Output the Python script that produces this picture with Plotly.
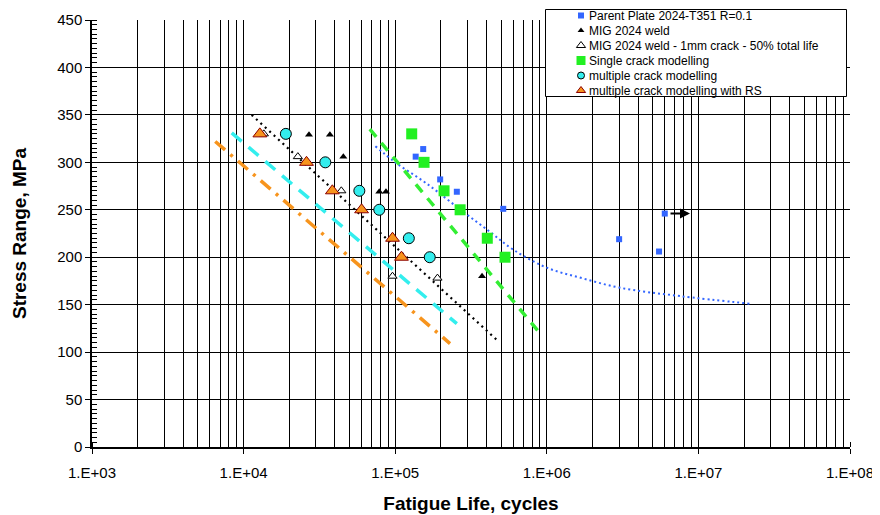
import numpy as np
import plotly.graph_objects as go

# ---------------- data ----------------
parent_N = [1.365e5, 1.53e5, 1.98e5, 2.55e5, 5.16e5, 3.0e6, 5.5e6, 6.0e6]
parent_S = [306, 314, 282, 269, 251, 219, 206, 246]
runout_N = [6.4e6, 8.8e6]
runout_S = [246, 246]

parent_fit_N = [7.4e4, 1.0e5, 1.6e5, 2.7e5, 4.2e5, 6.0e5, 1.0e6, 1.7e6, 3.0e6, 7.6e6, 2.2e7]
parent_fit_S = [317, 300, 278, 250, 227, 208, 189, 178, 168, 159, 151]

mig_N = [2.70e4, 3.71e4, 4.55e4, 7.85e4, 8.69e4, 1.90e5, 3.74e5]
mig_S = [329, 329, 306, 269, 269, 178, 180]

mig_crack_N = [1.36e4, 2.28e4, 4.41e4, 9.6e4, 1.9e5]
mig_crack_S = [330, 306, 270, 180, 178]

single_N = [1.285e5, 1.55e5, 2.10e5, 2.68e5, 4.05e5, 5.3e5]
single_S = [330, 300, 270, 250, 220, 200]

multi_N = [1.9e4, 3.46e4, 5.8e4, 7.85e4, 1.23e5, 1.69e5]
multi_S = [330, 300, 270, 250, 220, 200]

multi_rs_N = [1.28e4, 2.6e4, 3.85e4, 6.0e4, 9.6e4, 1.1e5]
multi_rs_S = [330, 300, 270, 250, 220, 200]

single_fit_N = [6.8e4, 9.0e5]
single_fit_S = [335, 120]
multi_fit_N = [8.35e3, 2.55e5]
multi_fit_S = [331, 130]
multi_rs_fit_N = [6.5e3, 2.3e5]
multi_rs_fit_S = [322, 109]
mig_fit_N = [1.13e4, 4.67e5]
mig_fit_S = [350, 113]

x_decades = [1e3, 1e4, 1e5, 1e6, 1e7, 1e8]
x_tick_labels = ["1.E+03", "1.E+04", "1.E+05", "1.E+06", "1.E+07", "1.E+08"]
y_ticks = [0, 50, 100, 150, 200, 250, 300, 350, 400, 450]

legend_names = [
    "Parent Plate 2024-T351 R=0.1",
    "MIG 2024 weld",
    "MIG 2024 weld - 1mm crack - 50% total life",
    "Single crack modelling",
    "multiple crack modelling",
    "multiple crack modelling with RS",
]

# ---------------- styles ----------------
FONT = "Arial, Liberation Sans, sans-serif"
BLUE = "#3366FF"
GREEN = "#22F022"
CYAN = "#33EEEE"
ORANGE = "#F7941D"
DARKRED = "#8B0000"

fig = go.Figure()

def line(xs, ys, color, width, dash, shape="linear"):
    fig.add_trace(go.Scatter(x=xs, y=ys, mode="lines", showlegend=False,
                             hoverinfo="skip",
                             line=dict(color=color, width=width, dash=dash,
                                       shape=shape)))

line(parent_fit_N, parent_fit_S, BLUE, 2, "2px,3px", "spline")
line(mig_fit_N, mig_fit_S, "black", 2.2, "2px,4px")
line(multi_rs_fit_N, multi_rs_fit_S, ORANGE, 3.5, "13px,7px,3px,7px")
line(multi_fit_N, multi_fit_S, CYAN, 3.5, "13px,9px")
line(single_fit_N, single_fit_S, "#33EE33", 3.5, "10px,8px")

series = [
    (parent_N, parent_S, dict(symbol="square", size=6, color=BLUE)),
    (mig_N, mig_S, dict(symbol="triangle-up", size=7, color="black")),
    (mig_crack_N, mig_crack_S, dict(symbol="triangle-up", size=8, color="white",
                                    line=dict(color="black", width=1))),
    (single_N, single_S, dict(symbol="square", size=11, color=GREEN)),
    (multi_N, multi_S, dict(symbol="circle", size=11, color=CYAN,
                            line=dict(color="black", width=1))),
    (multi_rs_N, multi_rs_S, dict(symbol="triangle-up", size=12, color=ORANGE,
                                  line=dict(color=DARKRED, width=1))),
]
for (xs, ys, mk), name in zip(series, legend_names):
    fig.add_trace(go.Scatter(x=xs, y=ys, mode="markers", name=name,
                             showlegend=False, marker=mk))

# run-out arrow
fig.add_annotation(x=np.log10(runout_N[1]), y=runout_S[1],
                   ax=np.log10(runout_N[0]), ay=runout_S[0],
                   xref="x", yref="y", axref="x", ayref="y",
                   text="", showarrow=True, arrowhead=2, arrowsize=1,
                   arrowwidth=2, arrowcolor="black")

# ---------------- compact legend (own small subplot) ----------------
LEG_W, LEG_H = 302, 88
row_y = [6.5 + 15 * i for i in range(len(legend_names))]
key_x = 36
key_sizes = [6, 6, 8, 9, 7, 8]
fig.add_shape(type="rect", xref="x2", yref="y2", x0=0.5, x1=LEG_W - 0.5,
              y0=0.5, y1=LEG_H - 0.5, fillcolor="white",
              line=dict(color="black", width=1), layer="between")
for (xs, ys, mk), name, ry, sz in zip(series, legend_names, row_y, key_sizes):
    key = dict(mk)
    key["size"] = sz
    fig.add_trace(go.Scatter(x=[key_x], y=[ry], xaxis="x2", yaxis="y2",
                             mode="markers", marker=key, showlegend=False,
                             hoverinfo="skip"))
    fig.add_annotation(x=key_x + 6, y=ry, xref="x2", yref="y2", text=name,
                       showarrow=False, xanchor="left", yanchor="middle",
                       font=dict(family=FONT, size=12, color="black"))

# ---------------- axes ----------------
x_tickvals = [k * 10.0 ** d for d in range(3, 8) for k in range(1, 10)] + [1e8]
x_ticktext = [x_tick_labels[x_decades.index(v)] if v in x_decades else ""
              for v in x_tickvals]

fig.update_layout(
    xaxis=dict(type="log", range=[3, 8], tickmode="array",
               tickvals=x_tickvals, ticktext=x_ticktext,
               showgrid=True, gridcolor="black", gridwidth=1,
               ticks="outside", ticklen=5, tickcolor="black", tickwidth=1,
               minor=dict(ticks="inside", ticklen=5, tickcolor="black",
                          tickmode="array", tickvals=x_tickvals, showgrid=False),
               ticklabelstandoff=6,
               showline=True, linecolor="black", linewidth=1.5,
               zeroline=False,
               tickfont=dict(family=FONT, size=15, color="black"),
               title=dict(text="<b>Fatigue Life, cycles</b>", standoff=17,
                          font=dict(family=FONT, size=19, color="black"))),
    yaxis=dict(domain=[0, 427 / 438], range=[0, 450], tickmode="array",
               tickvals=y_ticks,
               showgrid=True, gridcolor="black", gridwidth=1,
               ticks="outside", ticklen=5, tickcolor="black", tickwidth=1,
               minor=dict(dtick=5, ticks="inside", ticklen=5,
                          tickcolor="black", showgrid=False),
               showline=True, linecolor="black", linewidth=1.5,
               zeroline=False,
               tickfont=dict(family=FONT, size=15, color="black"),
               title=dict(text="<b>Stress Range, MPa</b>", standoff=26,
                          font=dict(family=FONT, size=19, color="black"))),
    xaxis2=dict(domain=[453 / 758, 755 / 758], range=[0, LEG_W], visible=False,
                anchor="y2", fixedrange=True),
    yaxis2=dict(domain=[350 / 438, 1.0], range=[LEG_H, 0], visible=False,
                anchor="x2", fixedrange=True),
    width=872, height=507,
    margin=dict(l=84, r=30, t=1, b=68, autoexpand=False),
    paper_bgcolor="white", plot_bgcolor="rgba(0,0,0,0)",
    font=dict(family=FONT, color="black"),
    showlegend=False,
)

fig.write_html("out.html")
